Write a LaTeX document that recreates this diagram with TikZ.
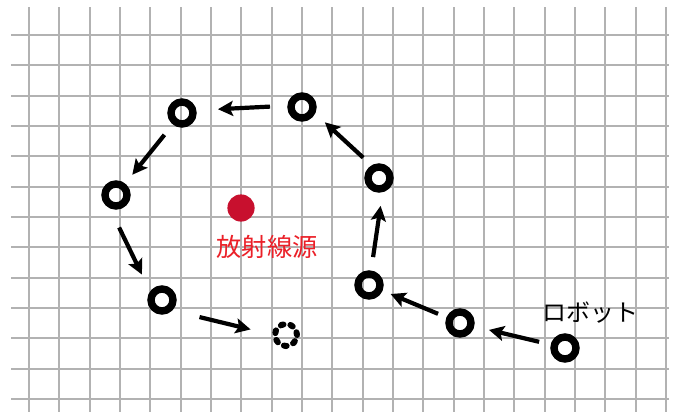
\documentclass[tikz,border=0pt]{standalone}
\usepackage{fontspec}
\newfontfamily\jpfont{Noto Sans CJK JP}
\usetikzlibrary{arrows.meta}
\definecolor{srcred}{RGB}{200,16,46}
\definecolor{labelred}{RGB}{235,32,40}

\begin{document}
\begin{tikzpicture}[x=0.5pt, y=-0.5pt,
  gridline/.style={line width=1pt, black!30},
  spot/.style={circle, draw, line width=3.7pt, minimum size=11pt, inner sep=0pt},
  goal/.style={circle, draw, line width=3pt, minimum size=11pt, inner sep=0pt,
    dash pattern=on 1.4pt off 3.537pt, line cap=round},
  move/.style={-{Stealth[length=7.5pt,width=7.5pt,inset=1.5pt]}, line width=2.1pt}]
\useasboundingbox (0,0) rectangle (676,412);
\fill[white] (0,0) rectangle (676,412);
% grid
\foreach \i in {0,...,21}
  \draw[gridline] (29+30.33*\i,7) -- (29+30.33*\i,412);
\foreach \j in {0,...,12}
  \draw[gridline] (11,35+30.33*\j) -- (669,35+30.33*\j);
% source
\fill[srcred] (241,208) circle (6.8pt);
\node[text=labelred, font=\jpfont\fontsize{12.6pt}{14pt}\selectfont] (srclabel) at (267,247) {放射線源};
% robot path
\node[spot] (r0) at (565,348) {};
\node[spot] (r1) at (460,323) {};
\node[spot] (r2) at (369,285) {};
\node[spot] (r3) at (379,178) {};
\node[spot] (r4) at (302,107) {};
\node[spot] (r5) at (182,113) {};
\node[spot] (r6) at (116,195) {};
\node[spot] (r7) at (162,300) {};
\node[goal] (r8) at (286,335) {};
\node[font=\jpfont\fontsize{12pt}{14pt}\selectfont] (robot) at (590,313) {ロボット};
\draw[move, shorten <=13.3pt, shorten >=14.9pt] (r0.center) -- (r1.center);
\draw[move, shorten <=11.9pt, shorten >=11.7pt] (r1.center) -- (r2.center);
\draw[move, shorten <=14.1pt, shorten >=13.8pt] (r2.center) -- ([shift={(5.6,0.5)}]r3.center);
\draw[move, shorten <=12.8pt, shorten >=13.5pt] ([shift={(3,-3)}]r3.center) -- ([shift={(3,-3)}]r4.center);
\draw[move, shorten <=16pt, shorten >=18pt] ([shift={(0,-2)}]r4.center) -- ([shift={(0,-2)}]r5.center);
\draw[move, shorten <=14pt, shorten >=13pt] (r5.center) -- (r6.center);
\draw[move, shorten <=15.5pt, shorten >=15.7pt] ([shift={(-10.4,4.6)}]r6.center) -- ([shift={(-6.4,2.8)}]r7.center);
\draw[move, shorten <=19.3pt, shorten >=18.2pt] ([shift={(0,8)}]r7.center) -- ([shift={(0,3)}]r8.center);
\end{tikzpicture}
\end{document}
